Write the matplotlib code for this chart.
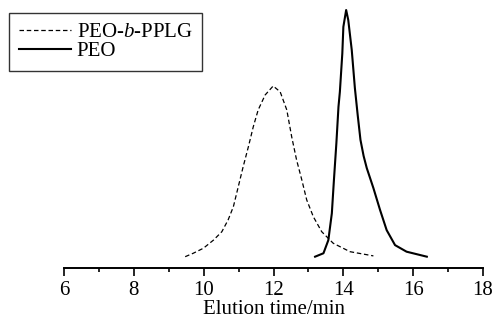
import matplotlib.pyplot as plt
from matplotlib.ticker import MultipleLocator

# elution time (min) and normalised detector signal
t_copolymer = [9.47, 9.70, 9.99, 10.28, 10.52, 10.70, 10.85, 10.99, 11.13,
               11.28, 11.42, 11.56, 11.76, 11.99, 12.19, 12.38, 12.52, 12.66,
               12.81, 12.95, 13.14, 13.38, 13.71, 14.19, 14.86]
s_copolymer = [0.043, 0.056, 0.075, 0.106, 0.138, 0.183, 0.233, 0.309, 0.385,
               0.461, 0.537, 0.601, 0.658, 0.692, 0.670, 0.601, 0.499, 0.411,
               0.335, 0.259, 0.195, 0.138, 0.094, 0.062, 0.046]

t_peo = [13.19, 13.43, 13.57, 13.67, 13.73, 13.80, 13.86, 13.90, 13.97, 14.00,
         14.08, 14.14, 14.24, 14.33, 14.41, 14.49, 14.58, 14.67, 14.86, 15.05,
         15.24, 15.48, 15.81, 16.39]
s_peo = [0.043, 0.056, 0.106, 0.208, 0.335, 0.475, 0.613, 0.67, 0.816, 0.917,
         0.981, 0.943, 0.829, 0.684, 0.582, 0.487, 0.426, 0.380, 0.304, 0.221,
         0.144, 0.087, 0.062, 0.043]

plt.rcParams["font.family"] = ["Liberation Serif", "DejaVu Serif"]
plt.rcParams["mathtext.fontset"] = "custom"
plt.rcParams["mathtext.rm"] = "Liberation Serif"
plt.rcParams["mathtext.it"] = "Liberation Serif:italic"

fig = plt.figure(figsize=(4.94, 3.23), dpi=100)
ax = fig.add_axes([0.1296, 0.1703, 0.8482, 0.8142])

ax.plot(t_copolymer, s_copolymer, color="black", lw=0.9, ls=(0, (3.6, 2.2)),
        label="PEO-$\\it{b}$-PPLG")
ax.plot(t_peo, s_peo, color="black", lw=1.5, label="PEO")

ax.set_xlim(6, 18)
ax.set_ylim(0, 1)
ax.xaxis.set_major_locator(MultipleLocator(2))
ax.xaxis.set_minor_locator(MultipleLocator(1))
ax.tick_params(axis="x", which="major", length=5.5, width=1.2, labelsize=15, pad=4)
ax.tick_params(axis="x", which="minor", length=3, width=1.2)
ax.set_yticks([])
for side in ["left", "right", "top"]:
    ax.spines[side].set_visible(False)
ax.spines["bottom"].set_linewidth(1.4)
ax.set_xlabel("Elution time/min", fontsize=15, labelpad=0)

leg = ax.legend(loc="upper left", bbox_to_anchor=(-0.131, 0.97), fontsize=15,
                frameon=True, fancybox=False, edgecolor="black",
                handlelength=2.5, handletextpad=0.3, borderpad=0.45,
                labelspacing=0.0, borderaxespad=0)
leg.get_frame().set_linewidth(1.0)

fig.savefig("out.png", dpi=100)
